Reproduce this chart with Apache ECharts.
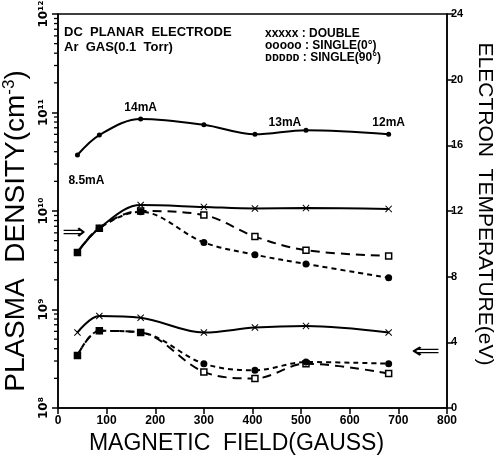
<!DOCTYPE html>
<html>
<head>
<meta charset="utf-8">
<script src="https://cdn.jsdelivr.net/npm/echarts@6/dist/echarts.min.js"></script>
<style>
  html, body { margin: 0; padding: 0; background: #fff; }
  #chart { width: 498px; height: 455px; }
</style>
</head>
<body>
<div id="chart"></div>
<script>
// magnetic field (gauss) of each measurement
const fieldG = [40, 85, 170, 300, 405, 510, 680]
// discharge density curve (top) and its current notes
const topDensity = [3.7e10, 5.9e10, 8.6e10, 7.5e10, 6.0e10, 6.6e10, 6.0e10]
const currents = ['8.5mA', '', '14mA', '', '13mA', '', '12mA']
// plasma density (cm^-3), left axis
const densDouble = [3.8e9, 6.7e9, 1.15e10, 1.1e10, 1.06e10, 1.07e10, 1.05e10]
const densSingle0 = [3.8e9, 6.7e9, 9.8e9, 4.8e9, 3.6e9, 2.9e9, 2.1e9]
const densSingle90 = [3.8e9, 6.7e9, 1.0e10, 9.1e9, 5.5e9, 4.0e9, 3.5e9]
// electron temperature (eV), right axis
const tempDouble = [4.6, 5.6, 5.5, 4.6, 4.9, 5.0, 4.6]
const tempSingle0 = [3.2, 4.7, 4.6, 2.7, 2.3, 2.8, 2.7]
const tempSingle90 = [3.2, 4.7, 4.6, 2.2, 1.8, 2.7, 2.1]
// axis ticks
const fieldTicks = [0, 100, 200, 300, 400, 500, 600, 700, 800]
const densityDecades = [8, 9, 10, 11, 12]
const tempTicks = [0, 4, 8, 12, 16, 20, 24]

const supDigits = { '0': '⁰', '1': '¹', '2': '²', '3': '³', '4': '⁴', '5': '⁵', '6': '⁶', '7': '⁷', '8': '⁸', '9': '⁹' }
const pairs = (ys) => fieldG.map((x, i) => [x, ys[i]])
const crossPath = 'path://M1,0L5,4L9,0L10,1L6,5L10,9L9,10L5,6L1,10L0,9L4,5L0,1Z'

// log minor ticks 2..9 of each decade
const minorTicks = []
for (let n = densityDecades[0]; n < densityDecades[densityDecades.length - 1]; n++) {
  for (let k = 2; k <= 9; k++) minorTicks.push(k * Math.pow(10, n))
}

const LW = 2
const labelFont = { fontFamily: 'Liberation Sans', fontWeight: 'bold', color: '#000' }

let option = {
  backgroundColor: '#fff',
  animation: false,
  grid: {
    left: 58, right: 51, top: 14, bottom: 47,
    outerBoundsMode: 'none',
    containLabel: false,
    show: true, borderColor: '#000', borderWidth: 1.5,
  },
  xAxis: {
    type: 'value',
    min: fieldTicks[0], max: fieldTicks[fieldTicks.length - 1], interval: 100,
    name: 'MAGNETIC  FIELD(GAUSS)',
    nameLocation: 'middle',
    nameGap: 22,
    nameTextStyle: { fontFamily: 'Liberation Sans', fontSize: 23, color: '#000', padding: [0, 32, 0, 0] },
    axisLine: { lineStyle: { color: '#000', width: 1.5 } },
    axisTick: { length: 6, lineStyle: { color: '#000', width: 1.5 } },
    axisLabel: { ...labelFont, fontSize: 12, margin: 7 },
    splitLine: { show: false },
  },
  yAxis: [
    {
      type: 'log',
      logBase: 10,
      min: Math.pow(10, densityDecades[0]),
      max: Math.pow(10, densityDecades[densityDecades.length - 1]),
      name: '{a|PLASMA  DENSITY(cm}{s|-3}{a|)}',
      nameLocation: 'middle',
      nameGap: 24,
      nameTextStyle: {
        padding: [0, 40, 0, 0],
        rich: {
          a: { fontFamily: 'Liberation Sans', fontSize: 28, color: '#000' },
          s: { fontFamily: 'Liberation Sans', fontSize: 17, color: '#000', verticalAlign: 'top', padding: [0, 0, 14, 0] },
        },
      },
      axisLine: { show: true, lineStyle: { color: '#000', width: 1.5 } },
      axisTick: { show: true, length: 6, lineStyle: { color: '#000', width: 1.5 } },
      axisLabel: {
        ...labelFont,
        fontFamily: 'DejaVu Sans',
        fontSize: 12,
        rotate: 90,
        margin: 8,
        formatter: (v) => {
          const e = Math.round(Math.log10(v))
          return '10' + String(e).split('').map((d) => supDigits[d]).join('')
        },
      },
      splitLine: { show: false },
    },
    {
      type: 'value',
      position: 'right',
      min: tempTicks[0], max: tempTicks[tempTicks.length - 1], interval: 4,
      name: 'ELECTRON  TEMPERATURE(eV)',
      nameLocation: 'middle',
      nameGap: 24,
      nameRotate: -90,
      nameTextStyle: { fontFamily: 'Liberation Sans Narrow, Liberation Sans', fontSize: 21, color: '#000', padding: [0, 14, 0, 0] },
      axisLine: { show: true, lineStyle: { color: '#000', width: 1.5 } },
      axisTick: { length: 6, lineStyle: { color: '#000', width: 1.5 } },
      axisLabel: { ...labelFont, fontSize: 11, margin: 4 },
      splitLine: { show: false },
    },
  ],
  graphic: [
    { type: 'text', left: 64, top: 26, style: { text: 'DC  PLANAR  ELECTRODE', ...labelFont, fontSize: 13, fill: '#000' } },
    { type: 'text', left: 64, top: 41, style: { text: 'Ar  GAS(0.1  Torr)', ...labelFont, fontSize: 13, fill: '#000' } },
    { type: 'text', left: 265, top: 28, style: { text: 'xxxxx : DOUBLE', ...labelFont, fontSize: 12, fill: '#000' } },
    { type: 'text', left: 265, top: 40, style: { text: 'ooooo : SINGLE(0°)', ...labelFont, fontSize: 12, fill: '#000' } },
    { type: 'text', left: 265, top: 52, style: { text: 'ᴅᴅᴅᴅᴅ : SINGLE(90°)', ...labelFont, fontSize: 12, fill: '#000' } },
    { type: 'text', x: 62, y: 222, scaleX: 1.3, style: { text: '⇒', fontFamily: 'DejaVu Sans', fontSize: 22, fill: '#000' } },
    { type: 'text', x: 411, y: 341, scaleX: 1.6, style: { text: '⇐', fontFamily: 'DejaVu Sans', fontSize: 22, fill: '#000' } },
  ],
  series: [
    {
      name: 'discharge',
      type: 'line',
      yAxisIndex: 0,
      smooth: 0.35,
      symbol: 'circle',
      symbolSize: 5,
      itemStyle: { color: '#000' },
      lineStyle: { color: '#000', width: LW },
      data: pairs(topDensity).map((p, i) => {
        const lbl = { show: !!currents[i], formatter: currents[i], ...labelFont, fontSize: 12, position: 'top', distance: 3 }
        if (i === 0) Object.assign(lbl, { position: 'bottom', offset: [9, 14] })
        if (i === 4) Object.assign(lbl, { offset: [30, 0] })
        return { value: p, label: lbl }
      }),
    },
    {
      name: 'density double',
      type: 'line',
      yAxisIndex: 0,
      smooth: 0.35,
      symbol: crossPath,
      symbolSize: 7,
      itemStyle: { color: '#000' },
      lineStyle: { color: '#000', width: LW },
      data: pairs(densDouble),
    },
    {
      name: 'density single 90',
      type: 'line',
      yAxisIndex: 0,
      smooth: 0.35,
      symbol: 'rect',
      symbolSize: 6,
      itemStyle: { color: '#fff', borderColor: '#000', borderWidth: 1.5 },
      lineStyle: { color: '#000', width: LW, type: [9, 6] },
      data: pairs(densSingle90),
    },
    {
      name: 'density single 0',
      type: 'line',
      yAxisIndex: 0,
      smooth: 0.35,
      symbol: 'circle',
      symbolSize: 7,
      itemStyle: { color: '#000' },
      lineStyle: { color: '#000', width: LW, type: [5, 4] },
      data: pairs(densSingle0),
    },
    {
      name: 'temp double',
      type: 'line',
      yAxisIndex: 1,
      smooth: 0.35,
      symbol: crossPath,
      symbolSize: 7,
      itemStyle: { color: '#000' },
      lineStyle: { color: '#000', width: LW },
      data: pairs(tempDouble),
    },
    {
      name: 'temp single 90',
      type: 'line',
      yAxisIndex: 1,
      smooth: 0.35,
      symbol: 'rect',
      symbolSize: 6,
      itemStyle: { color: '#fff', borderColor: '#000', borderWidth: 1.5 },
      lineStyle: { color: '#000', width: LW, type: [9, 6] },
      data: pairs(tempSingle90),
    },
    {
      name: 'temp single 0',
      type: 'line',
      yAxisIndex: 1,
      smooth: 0.35,
      symbol: 'circle',
      symbolSize: 7,
      itemStyle: { color: '#000' },
      lineStyle: { color: '#000', width: LW, type: [5, 4] },
      data: pairs(tempSingle0),
    },
  ],
}

const dom = document.getElementById('chart')
const chart = echarts.init(dom)
chart.setOption(option)

// minor ticks of the log axis, placed through the axis scale
const x0 = chart.convertToPixel({ xAxisIndex: 0 }, fieldTicks[0])
const tickEls = minorTicks.map((v) => {
  const y = chart.convertToPixel({ yAxisIndex: 0 }, v)
  return {
    type: 'line',
    z: 100,
    silent: true,
    shape: { x1: x0 - 4, y1: y, x2: x0, y2: y },
    style: { stroke: '#000', lineWidth: 1.3 },
  }
})
chart.setOption({ graphic: option.graphic.concat(tickEls) })
window.addEventListener('resize', () => chart.resize())
</script>
</body>
</html>
